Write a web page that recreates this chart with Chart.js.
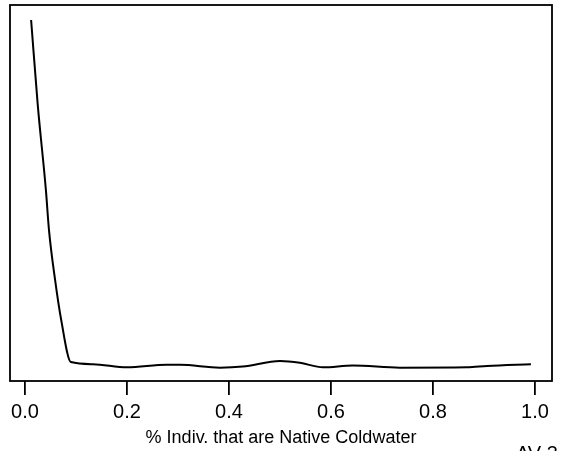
<!DOCTYPE html>
<html>
<head>
<meta charset="utf-8">
<script src="https://cdn.jsdelivr.net/npm/chart.js@4/dist/chart.umd.min.js"></script>
<style>
  html, body { margin: 0; padding: 0; background: #fff; }
  #wrap { width: 563px; height: 451px; position: relative; }
</style>
</head>
<body>
<div id="wrap"><canvas id="density"></canvas></div>
<script>
// density of % individuals that are native coldwater
const xVals = [0.012, 0.025, 0.041, 0.047, 0.059, 0.071, 0.090, 0.133, 0.200, 0.278,
               0.304, 0.382, 0.427, 0.500, 0.539, 0.584, 0.643, 0.735, 0.867, 0.906, 0.992];
const yVals = [10.0, 7.56, 5.11, 3.97, 2.53, 1.38, 0.17, 0.11, 0.02, 0.09,
               0.09, 0.01, 0.04, 0.20, 0.15, 0.02, 0.07, 0.01, 0.02, 0.06, 0.11];
const xTicks = [0, 0.2, 0.4, 0.6, 0.8, 1.0];
const xTitle = "% Indiv. that are Native Coldwater";
const cornerTag = "AV-3";

const FONT = "'Liberation Sans', Arial, sans-serif";

// рамка вокруг области графика + подпись в углу
const boxPlugin = {
  id: "box",
  afterDraw(chart) {
    const { ctx, chartArea: a } = chart;
    ctx.save();
    ctx.strokeStyle = "#000";
    ctx.lineWidth = 1.8;
    ctx.strokeRect(a.left, a.top, a.right - a.left, a.bottom - a.top);
    ctx.fillStyle = "#000";
    ctx.font = "20px " + FONT;
    ctx.textAlign = "left";
    ctx.textBaseline = "top";
    ctx.fillText(cornerTag, 516, 444);
    ctx.restore();
  },
};

new Chart(document.getElementById("density"), {
  type: "line",
  data: {
    datasets: [{
      data: xVals.map((x, i) => ({ x, y: yVals[i] })),
      borderColor: "#000",
      borderWidth: 2,
      pointRadius: 0,
      cubicInterpolationMode: "monotone",
      fill: false,
    }],
  },
  options: {
    responsive: true,
    maintainAspectRatio: false,
    animation: false,
    layout: { padding: { left: 10, right: 11, top: 5, bottom: 0 } },
    plugins: { legend: { display: false }, tooltip: { enabled: false } },
    scales: {
      x: {
        type: "linear",
        min: -0.0294,
        max: 1.0333,
        afterBuildTicks: (s) => { s.ticks = xTicks.map((v) => ({ value: v })); },
        afterFit: (s) => { s.height = 70; },
        grid: { drawOnChartArea: false, drawTicks: true, tickLength: 14, color: "#000", lineWidth: 1.8 },
        border: { display: false },
        ticks: {
          color: "#000",
          padding: 5,
          maxRotation: 0,
          autoSkip: false,
          font: { family: FONT, size: 20 },
          callback: (v) => Number(v).toFixed(1),
        },
        title: {
          display: true,
          text: xTitle,
          color: "#000",
          font: { family: FONT, size: 18 },
          padding: { top: 0, bottom: 2 },
        },
      },
      y: {
        display: false,
        min: -0.374,
        max: 10.43,
      },
    },
  },
  plugins: [boxPlugin],
});
</script>
</body>
</html>
